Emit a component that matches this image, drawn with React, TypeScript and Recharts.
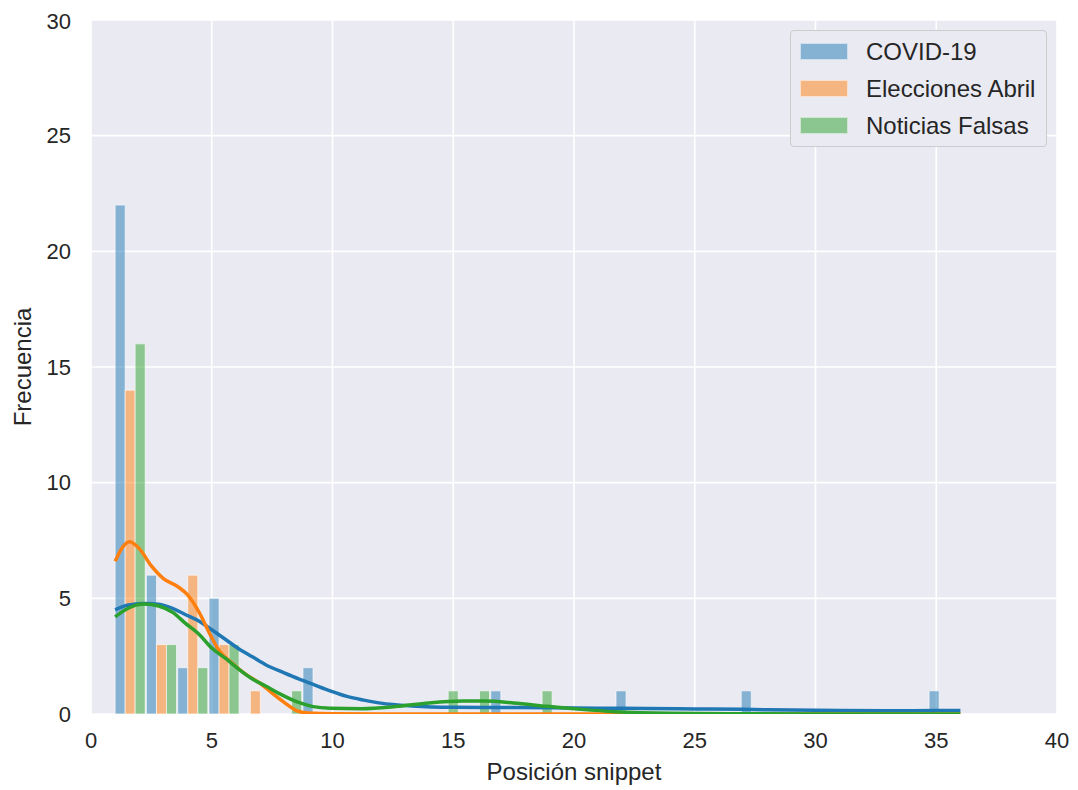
import React from 'react';
import { ComposedChart, Bar, Line, XAxis, YAxis, CartesianGrid, Legend } from 'recharts';

const seriesNames = ['COVID-19', 'Elecciones Abril', 'Noticias Falsas'];
const seriesColors = ['#1f77b4', '#ff7f0e', '#2ca02c'];

// histogram: 27 equal bins between the smallest and the largest position
const binRange = [1, 36];
const covidCounts = [22, 6, 2, 5, 0, 0, 2, 0, 0, 0, 0, 0, 1, 0, 0, 0, 1, 0, 0, 0, 1, 0, 0, 0, 0, 0, 1];
const eleccionesCounts = [14, 3, 6, 3, 1, 0, 0, 0, 0, 0, 0, 0, 0, 0, 0, 0, 0, 0, 0, 0, 0, 0, 0, 0, 0, 0, 0];
const noticiasCounts = [16, 3, 2, 3, 0, 1, 0, 0, 0, 0, 1, 1, 0, 1, 0, 0, 0, 0, 0, 0, 0, 0, 0, 0, 0, 0, 0];

// kde curves, scaled to counts  [x, y]
const covidKde = [
  [1, 4.5], [1.5, 4.7], [2.2, 4.78], [2.8, 4.75], [3.4, 4.56], [3.9, 4.3], [4.5, 4.0], [5.0, 3.64],
  [5.6, 3.2], [6.1, 2.83], [6.7, 2.46], [7.25, 2.12], [8.0, 1.78], [8.6, 1.52], [9.2, 1.28], [9.9, 1.0],
  [10.6, 0.76], [11.3, 0.6], [12, 0.47], [13.3, 0.35], [15, 0.29], [17, 0.28], [19, 0.27], [21, 0.25],
  [23, 0.24], [25, 0.22], [27, 0.2], [29, 0.17], [31, 0.15], [33, 0.14], [35, 0.15], [36, 0.15],
];
const eleccionesKde = [
  [1, 6.6], [1.3, 7.2], [1.6, 7.45], [2.0, 7.15], [2.5, 6.4], [3.0, 5.85], [3.6, 5.5], [4.0, 5.15],
  [4.5, 4.35], [4.9, 3.5], [5.3, 2.75], [5.9, 2.15], [6.4, 1.72], [7.0, 1.33], [7.5, 0.9], [8.0, 0.5],
  [8.5, 0.15], [9, 0.04], [10, 0.01], [12, 0], [20, 0], [36, 0],
];
const noticiasKde = [
  [1, 4.2], [1.5, 4.55], [2.2, 4.75], [2.8, 4.67], [3.4, 4.38], [3.9, 3.93], [4.5, 3.42], [5.0, 2.85],
  [5.6, 2.38], [6.1, 1.95], [6.7, 1.5], [7.25, 1.2], [7.8, 0.88], [8.6, 0.5], [9.2, 0.32], [9.9, 0.25],
  [11.2, 0.23], [12.6, 0.32], [14, 0.48], [15.4, 0.56], [16.3, 0.56], [17.5, 0.48], [18.9, 0.33],
  [20.3, 0.2], [21.7, 0.1], [24, 0.03], [27, 0.01], [30, 0], [36, 0],
];

const xTicks = [0, 5, 10, 15, 20, 25, 30, 35, 40];
const yTicks = [0, 5, 10, 15, 20, 25, 30];

const CHART_W = 1070;
const CHART_H = 782;
const Y_AXIS_W = 83;
const MARGIN = { top: 12, right: 21, left: 0, bottom: 6 };
const PLOT_W = CHART_W - Y_AXIS_W - MARGIN.left - MARGIN.right;
const X_DOMAIN = [xTicks[0], xTicks[xTicks.length - 1]];
const pxPerUnit = PLOT_W / (X_DOMAIN[1] - X_DOMAIN[0]);

const TEXT = '#262626';
const FONT = '"Liberation Sans", Arial, sans-serif';

const binWidth = (binRange[1] - binRange[0]) / covidCounts.length;
const binData = covidCounts.map((c, i) => ({
  bin: (binRange[0] + i * binWidth).toFixed(2),
  covid: c || null,
  elecciones: eleccionesCounts[i] || null,
  noticias: noticiasCounts[i] || null,
}));
const barKeys = ['covid', 'elecciones', 'noticias'];
const kdes = [covidKde, eleccionesKde, noticiasKde].map(k => k.map(([x, y]) => ({ x, y })));

function LegendBox() {
  return (
    <div
      style={{
        boxSizing: 'border-box',
        width: 257,
        height: 117,
        padding: '2px 0 0 9px',
        background: '#eaeaf2',
        border: '1px solid #cccccc',
        borderRadius: 4,
        fontFamily: FONT,
        fontSize: 24,
        color: TEXT,
      }}
    >
      {seriesNames.map((name, i) => (
        <div key={name} style={{ display: 'flex', alignItems: 'center', height: 37 }}>
          <div
            style={{
              boxSizing: 'border-box',
              width: 48,
              height: 17,
              background: seriesColors[i] + '80',
              border: '1px solid rgba(255,255,255,0.6)',
              marginRight: 18,
            }}
          />
          <span>{name}</span>
        </div>
      ))}
    </div>
  );
}

export default function App() {
  return (
    <div style={{ fontFamily: FONT }}>
      <ComposedChart
        width={CHART_W}
        height={CHART_H}
        data={binData}
        margin={MARGIN}
        barCategoryGap={0}
        barGap={0}
      >
        <CartesianGrid
          xAxisId="num"
          fill="#eaeaf2"
          stroke="#ffffff"
          strokeWidth={1.6}
          verticalValues={xTicks}
          horizontalValues={yTicks}
        />
        <XAxis
          xAxisId="bins"
          dataKey="bin"
          type="category"
          orientation="top"
          hide
          padding={{
            left: (binRange[0] - X_DOMAIN[0]) * pxPerUnit,
            right: (X_DOMAIN[1] - binRange[1]) * pxPerUnit,
          }}
        />
        <XAxis
          xAxisId="num"
          dataKey="x"
          type="number"
          domain={X_DOMAIN}
          ticks={xTicks}
          allowDataOverflow
          axisLine={false}
          tickLine={false}
          tickSize={6}
          tickMargin={12}
          height={70}
          tick={{ fontSize: 22, fill: TEXT }}
          label={{ value: 'Posición snippet', position: 'insideBottom', offset: 4, fontSize: 24, fill: TEXT }}
        />
        <YAxis
          type="number"
          domain={[0, 30]}
          ticks={yTicks}
          allowDataOverflow
          width={Y_AXIS_W}
          axisLine={false}
          tickLine={false}
          tickSize={6}
          tickMargin={14}
          tick={{ fontSize: 22, fill: TEXT }}
          label={{
            value: 'Frecuencia',
            angle: -90,
            position: 'insideLeft',
            offset: 14,
            fontSize: 24,
            fill: TEXT,
            style: { textAnchor: 'middle' },
          }}
        />
        <Legend
          layout="horizontal"
          verticalAlign="middle"
          align="center"
          wrapperStyle={{ top: 22, left: 782, width: 257, height: 117 }}
          content={() => <LegendBox />}
        />
        {barKeys.map((k, i) => (
          <Bar
            key={k}
            xAxisId="bins"
            dataKey={k}
            name={seriesNames[i]}
            fill={seriesColors[i]}
            fillOpacity={0.5}
            stroke="#ffffff"
            strokeOpacity={0.6}
            strokeWidth={1}
            isAnimationActive={false}
          />
        ))}
        {kdes.map((d, i) => (
          <Line
            key={seriesNames[i]}
            xAxisId="num"
            data={d}
            dataKey="y"
            type="monotone"
            stroke={seriesColors[i]}
            strokeWidth={3.5}
            dot={false}
            legendType="none"
            isAnimationActive={false}
          />
        ))}
      </ComposedChart>
    </div>
  );
}
